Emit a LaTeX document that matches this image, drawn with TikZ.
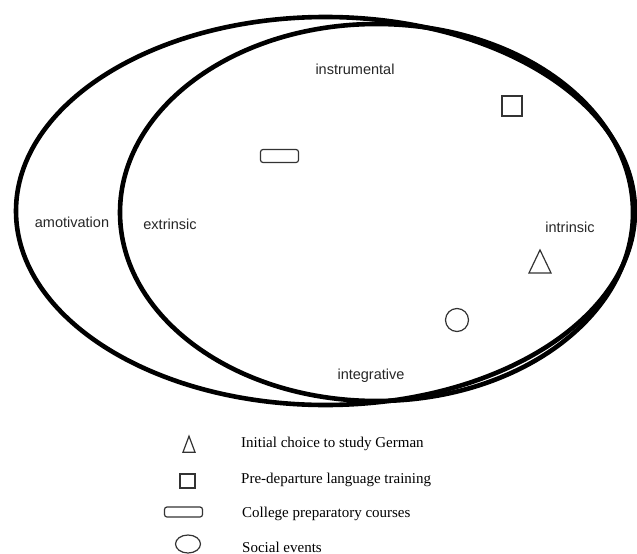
\documentclass[tikz,border=0pt]{standalone}
\usepackage{fontspec}
\setmainfont{Liberation Serif}
\setsansfont{Liberation Sans}
\usetikzlibrary{positioning,shapes.geometric}
\tikzset{
  zone/.style={ellipse, draw, line width=4.6pt, inner sep=0pt},
  zlbl/.style={font=\sffamily\fontsize{14.5}{16}\selectfont, text=black!85, inner sep=0pt},
  sym/.style={draw=black!80, line width=1.2pt, inner sep=0pt},
  boxsym/.style={sym, rectangle, minimum width=20pt, minimum height=20pt},
  barsym/.style={sym, rectangle, rounded corners=2.5pt, minimum width=38pt, minimum height=13pt},
  dotsym/.style={sym, circle, minimum size=23pt},
  trisym/.style={sym, isosceles triangle, isosceles triangle stretches,
                 shape border rotate=90, minimum width=22pt, minimum height=23pt},
  legtxt/.style={font=\fontsize{15}{17}\selectfont, anchor=west, inner sep=0pt}
}
\begin{document}
\begin{tikzpicture}[x=1pt, y=-1pt]
  \useasboundingbox (0,0) rectangle (637,554);
  % the two motivation regions
  \node[zone, minimum width=619pt, minimum height=388pt] (amot) at (325.5,211) {};
  \node[zone, minimum width=513pt, minimum height=377pt] (extr) at (376.5,212.5) {};
  \node[zlbl] (lamot) at (72,222) {amotivation};
  \node[zlbl] (lextr) at (170,224) {extrinsic};
  \node[zlbl] (linst) at (355,69) {instrumental};
  \node[zlbl] (lintr) at (570,227) {intrinsic};
  \node[zlbl] (linte) at (371,376) {integrative};
  % events placed in the regions
  \node[boxsym] (pre) at (512,106) {};
  \node[barsym] (col) at (279.5,156) {};
  \node[trisym] (ini) at (540,266) {};
  \node[dotsym] (soc) at (457,320) {};
  % legend
  \node[trisym, minimum width=12pt, minimum height=16pt] (kini) at (189,448) {};
  \node[boxsym, minimum width=15pt, minimum height=14pt] (kpre) at (187.5,481) {};
  \node[barsym, minimum height=10pt] (kcol) at (183.5,512) {};
  \node[dotsym, ellipse, minimum width=25pt, minimum height=18pt] (ksoc) at (188,544) {};
  \node[legtxt] (tini) at (241,444) {Initial choice to study German};
  \node[legtxt] (tpre) at (241,480) {Pre-departure language training};
  \node[legtxt] (tcol) at (242,514) {College preparatory courses};
  \node[legtxt] (tsoc) at (242,547) {Social events};
\end{tikzpicture}
\end{document}
